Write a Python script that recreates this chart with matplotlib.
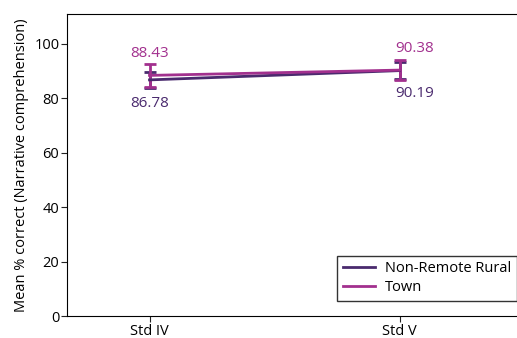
import matplotlib.pyplot as plt
from matplotlib.lines import Line2D

# Data
grades = ['Std IV', 'Std V']
rural_mean = [86.78, 90.19]
rural_err = [2.8, 3.2]
town_mean = [88.43, 90.38]
town_err = [4.2, 3.8]

rural_color = '#4a2a6e'
town_color = '#a2308e'

plt.rcParams['font.family'] = ['Open Sans', 'DejaVu Sans']

fig = plt.figure(figsize=(5.17, 3.38), dpi=100)
ax = fig.add_axes([67 / 517, 22 / 338, 450 / 517, 302 / 338])

x = range(len(grades))
ax.errorbar(x, rural_mean, yerr=rural_err, color=rural_color, lw=2,
            capsize=4, capthick=2, elinewidth=2)
ax.errorbar(x, town_mean, yerr=town_err, color=town_color, lw=2,
            capsize=4, capthick=2, elinewidth=2)

# value labels
shift = [0, 0.06]
for i in x:
    ax.text(i + shift[i], town_mean[i] + 8, f'{town_mean[i]:.2f}', color=town_color,
            ha='center', va='center', fontsize=11)
    ax.text(i + shift[i], rural_mean[i] - 8.5, f'{rural_mean[i]:.2f}', color=rural_color,
            ha='center', va='center', fontsize=11)

ax.set_xlim(-0.33, 1.47)
ax.set_ylim(0, 111)
ax.set_yticks([0, 20, 40, 60, 80, 100])
ax.set_xticks(list(x))
ax.set_xticklabels(grades)
ax.tick_params(labelsize=10.5, length=4, pad=1.5, color='#222222')
ax.set_ylabel('Mean % correct (Narrative comprehension)', fontsize=10.5, labelpad=4)
ax.spines['right'].set_visible(False)

handles = [Line2D([], [], color=rural_color, lw=2),
           Line2D([], [], color=town_color, lw=2)]
leg = ax.legend(handles, ['Non-Remote Rural', 'Town'], loc='lower right',
                fontsize=10.5, frameon=True, fancybox=False, edgecolor='black',
                borderaxespad=0, handlelength=2.2, handletextpad=0.7,
                labelspacing=0.25, borderpad=0.4, bbox_to_anchor=(1.0, 0.05))
leg.get_frame().set_linewidth(1)

plt.savefig('out.png', dpi=100)
plt.close()
